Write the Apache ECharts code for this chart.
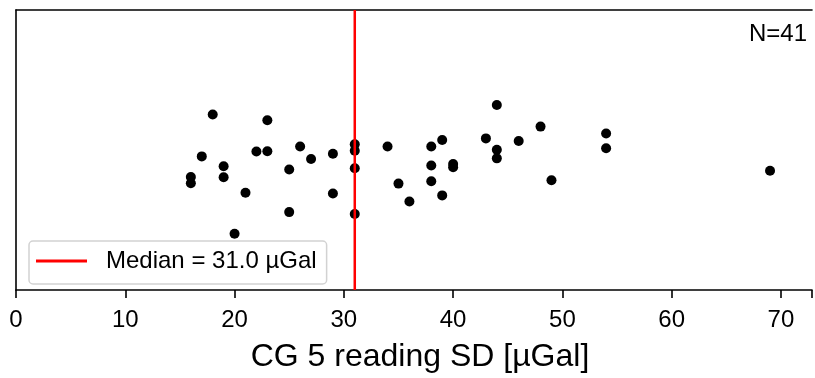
<!DOCTYPE html>
<html>
<head>
<meta charset="utf-8">
<script src="https://cdn.jsdelivr.net/npm/echarts@6/dist/echarts.min.js"></script>
<style>html,body{margin:0;padding:0;background:#fff;}#c{width:815px;height:378px;}</style>
</head>
<body>
<div id="c"></div>
<script>
// CG 5 reading SD values [µGal]
const sdValues = [16,16,17,18,19,19,20,21,22,23,23,25,25,26,27,29,29,31,31,31,31,34,35,36,38,38,38,39,39,40,40,43,44,44,44,46,48,49,54,54,69];
// vertical jitter (arbitrary units)
const jitter = [115,108.7,136,178.7,126,114.7,57.3,99,141,172.7,141.3,122.7,79.3,146,133.3,138.7,98.3,148.3,141.7,124,77.3,146,108.3,90,146,126.7,110.7,152.7,96.3,128.3,125,154.3,188.3,142.7,134,151.7,166.3,111.7,159.3,144.3,121.3];
const medianValue = 31.0;
const xTicks = [0,10,20,30,40,50,60,70];
const xRange = [0, 72.84];
const yRange = [0, 285];
const nLabel = 'N=41';
const medianLabel = 'Median = 31.0 µGal';
const xLabel = 'CG 5 reading SD [µGal]';

const font = '"Liberation Sans", Arial, Helvetica, sans-serif';
const points = sdValues.map((v, i) => [v, jitter[i]]);
const frame = {color: '#000', width: 1.6};

const chart = echarts.init(document.getElementById('c'), null, {renderer: 'canvas'});
chart.setOption({
  animation: false,
  backgroundColor: '#fff',
  title: {
    text: nLabel, right: 8, top: 22, padding: 0,
    textStyle: {fontFamily: font, fontSize: 24, fontWeight: 'normal', color: '#000'}
  },
  grid: {left: 16, top: 10, bottom: 83, right: 0, show: false},
  legend: {
    left: 29, top: 241,
    selectedMode: false,
    padding: [8, 10, 11, 7],
    icon: 'rect',
    itemWidth: 51, itemHeight: 3,
    backgroundColor: 'rgba(255,255,255,0.8)',
    borderColor: '#d2d2d2', borderWidth: 1.5, borderRadius: 4,
    textStyle: {fontFamily: font, fontSize: 24, color: '#000', padding: [0, 0, 0, 14]},
    data: [medianLabel]
  },
  xAxis: [{
    type: 'value', min: xRange[0], max: xRange[1], interval: 10,
    name: xLabel, nameLocation: 'middle', nameGap: 51,
    nameTextStyle: {fontFamily: font, fontSize: 32, color: '#000', padding: [0, 0, 0, 12]},
    axisLine: {show: true, lineStyle: frame},
    axisTick: {show: true, length: 8, lineStyle: frame},
    axisLabel: {
      margin: 18, fontFamily: font, fontSize: 24, color: '#000',
      formatter: v => (xTicks.indexOf(v) >= 0 ? String(v) : '')
    },
    splitLine: {show: false}
  }, {
    type: 'value', position: 'top', min: xRange[0], max: xRange[1],
    axisLine: {show: true, lineStyle: frame},
    axisTick: {show: false}, axisLabel: {show: false}, splitLine: {show: false}
  }],
  yAxis: {
    type: 'value', min: yRange[0], max: yRange[1],
    axisLine: {show: true, lineStyle: frame},
    axisTick: {show: false}, axisLabel: {show: false}, splitLine: {show: false}
  },
  series: [
    {
      type: 'scatter', name: 'points', data: points,
      symbolSize: 10, itemStyle: {color: '#000', opacity: 1}, z: 2
    },
    {
      type: 'line', name: medianLabel,
      data: [[medianValue, yRange[0]], [medianValue, yRange[1]]],
      symbol: 'none', showSymbol: false,
      lineStyle: {color: '#ff0000', width: 2.5}, itemStyle: {color: '#ff0000'}, z: 3
    }
  ]
});
</script>
</body>
</html>
